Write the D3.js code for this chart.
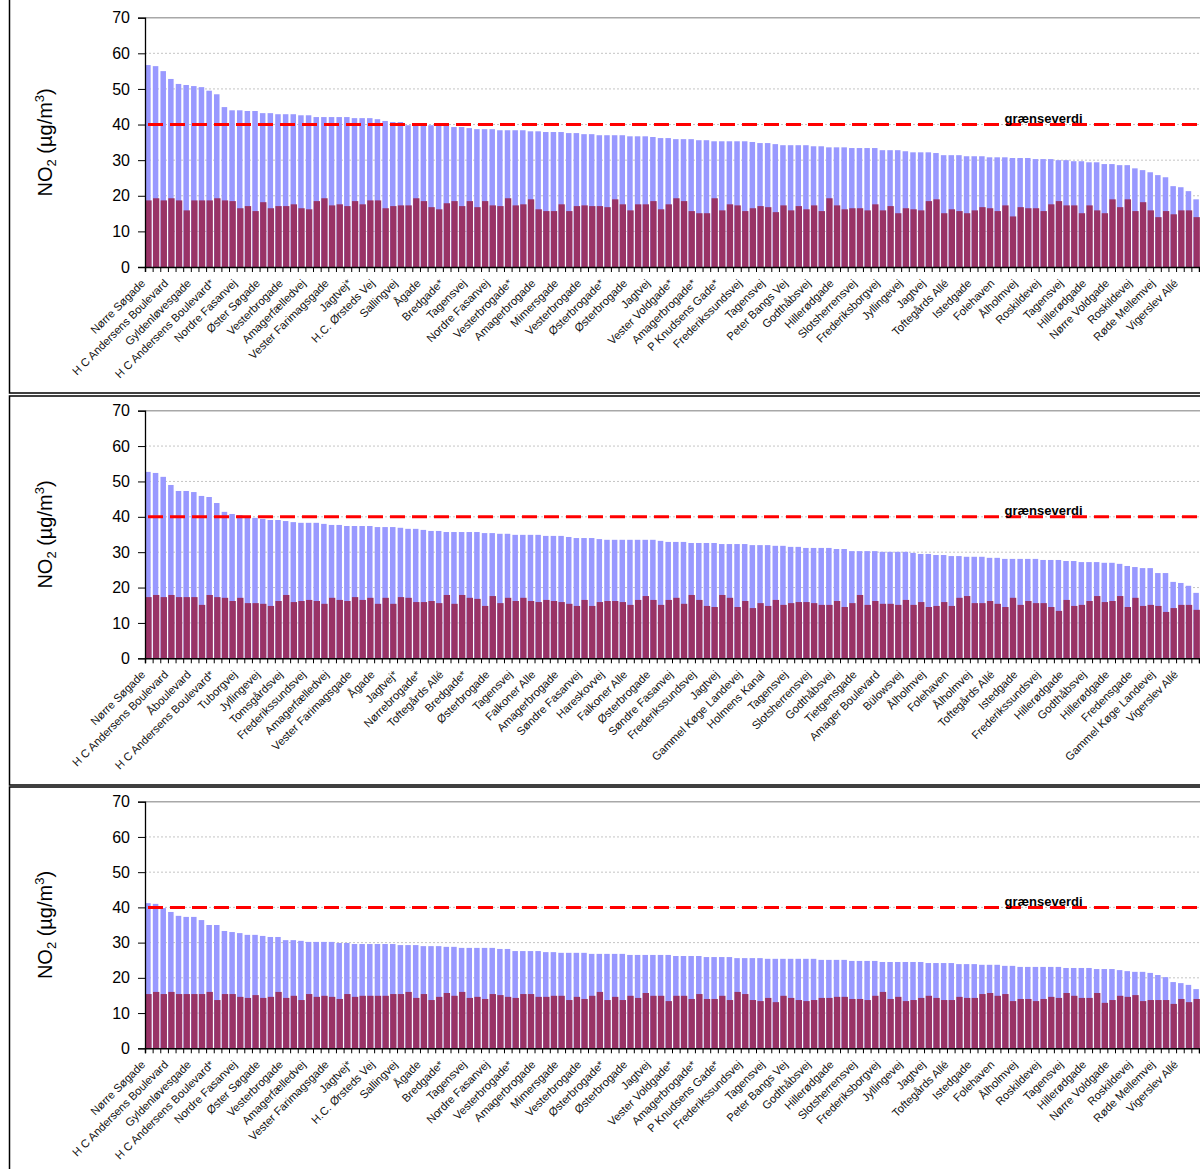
<!DOCTYPE html>
<html>
<head>
<meta charset="utf-8">
<script src="https://cdn.jsdelivr.net/npm/d3@7"></script>
<style>
  body { margin: 0; background: #fff; }
  svg { display: block; }
  text { font-family: Arial, "Liberation Sans", sans-serif; }
</style>
</head>
<body>
<div id="chart"></div>
<script>
// station names, one label per third bar
var labels1 = ["Nørre Søgade","H C Andersens Boulevard","Gyldenløvesgade","H C Andersens Boulevard*","Nordre Fasanvej","Øster Søgade","Vesterbrogade","Amagerfælledvej","Vester Farimagsgade","Jagtvej*","H.C. Ørsteds Vej","Sallingvej","Ågade","Bredgade*","Tagensvej","Nordre Fasanvej","Vesterbrogade*","Amagerbrogade","Mimersgade","Vesterbrogade","Østerbrogade*","Østerbrogade","Jagtvej","Vester Voldgade*","Amagerbrogade*","P Knudsens Gade*","Frederikssundsvej","Tagensvej","Peter Bangs Vej","Godthåbsvej","Hillerødgade","Slotsherrensvej","Frederiksborgvej","Jyllingevej","Jagtvej","Toftegårds Allé","Istedgade","Folehaven","Ålholmvej","Roskildevej","Tagensvej","Hillerødgade","Nørre Voldgade","Roskildevej","Røde Mellemvej","Vigerslev Allé"];
var labels2 = ["Nørre Søgade","H C Andersens Boulevard","Åboulevard","H C Andersens Boulevard*","Tuborgvej","Jyllingevej","Tomsgårdsvej","Frederikssundsvej","Amagerfælledvej","Vester Farimagsgade","Ågade","Jagtvej*","Nørrebrogade*","Toftegårds Allé","Bredgade*","Østerbrogade","Tagensvej","Falkoner Alle","Amagerbrogade","Søndre Fasanvej","Hareskovvej","Falkoner Alle","Østerbrogade","Søndre Fasanvej","Frederikssundsvej","Jagtvej","Gammel Køge Landevej","Holmens Kanal","Tagensvej","Slotsherrensvej","Godthåbsvej","Tietgensgade","Amager Boulevard","Bülowsvej","Ålholmvej","Folehaven","Ålholmvej","Toftegårds Allé","Istedgade","Frederikssundsvej","Hillerødgade","Godthåbsvej","Hillerødgade","Fredensgade","Gammel Køge Landevej","Vigerslev Allé"];
var labels3 = labels1;

// panel 1: street total (blue) and urban background (red)
var blue1 = [56.7,56.4,55.0,52.8,51.4,51.1,50.8,50.5,49.5,48.5,44.9,44.0,44.0,43.8,43.8,43.2,43.2,42.9,42.9,42.9,42.6,42.6,42.1,42.1,42.1,42.1,42.1,41.8,41.8,41.8,41.5,
  41.0,40.7,40.7,39.8,39.8,39.8,39.8,39.8,39.6,39.3,39.3,39.0,38.7,38.7,38.7,38.4,38.4,38.4,38.4,38.1,38.1,37.9,37.9,37.9,37.6,37.6,37.3,37.3,37.0,37.0,37.0,37.0,36.7,36.7,36.7,36.5,36.2,36.2,35.9,35.9,35.9,35.6,35.6,35.3,35.3,35.3,35.3,35.3,35.1,34.8,34.8,34.5,
  34.2,34.2,34.2,34.2,33.9,33.9,33.6,33.6,33.6,33.4,33.4,33.4,33.4,32.8,32.8,32.8,32.5,32.2,32.2,32.2,32.0,31.4,31.4,31.4,31.1,31.1,31.1,30.8,30.8,30.8,30.6,30.6,30.6,30.3,30.3,30.3,30.0,30.0,29.7,29.7,29.4,29.4,28.9,28.9,28.6,28.6,27.7,27.2,26.6,25.8,25.2,22.7,22.4,21.3,19.0];
var red1 = [18.7,19.3,18.7,19.3,18.7,15.9,18.7,18.7,18.7,19.3,18.7,18.5,16.5,17.1,15.7,18.2,16.5,17.1,17.1,17.6,16.5,16.2,18.5,19.3,17.3,17.6,17.1,18.5,17.6,18.7,18.7,
  16.5,17.1,17.3,17.3,19.3,18.5,16.8,16.2,17.9,18.5,17.1,18.5,16.8,18.5,17.3,17.1,19.3,17.3,17.6,19.0,16.2,15.7,15.7,17.6,15.7,17.1,17.3,17.1,17.1,16.8,19.0,17.6,15.9,17.6,17.6,18.5,16.2,17.6,19.3,18.5,15.7,15.1,15.1,19.3,15.9,17.6,17.3,15.7,16.5,17.1,16.8,15.4,
  17.3,15.9,17.1,16.2,17.3,15.7,19.3,17.3,16.2,16.5,16.5,15.9,17.6,15.9,17.1,15.1,16.5,16.2,15.9,18.5,19.0,15.1,16.2,15.7,15.1,15.9,16.8,16.5,15.7,17.3,14.2,16.8,16.5,16.5,15.7,17.6,18.5,17.3,17.3,15.1,17.3,15.9,15.1,19.0,16.8,19.0,15.7,18.2,15.9,14.0,15.7,14.8,15.9,15.9,14.0];

// panel 2
var blue2 = [52.7,52.4,51.3,49.0,47.3,47.3,47.0,45.9,45.6,43.9,41.4,40.8,40.5,40.2,39.7,39.4,39.1,39.1,38.8,38.5,38.3,38.3,38.3,38.0,37.7,37.7,37.4,37.4,37.4,37.4,37.1,
  37.1,37.1,36.9,36.6,36.6,36.3,36.0,36.0,35.7,35.7,35.7,35.7,35.7,35.4,35.4,35.2,35.2,34.9,34.9,34.9,34.9,34.6,34.6,34.6,34.3,34.0,34.0,34.0,33.7,33.5,33.5,33.5,33.5,33.5,33.5,33.5,33.2,32.9,32.9,32.9,32.6,32.6,32.6,32.6,32.3,32.3,32.3,32.3,32.0,32.0,32.0,31.8,
  31.8,31.5,31.5,31.2,31.2,31.2,31.2,30.9,30.9,30.3,30.3,30.3,30.3,30.1,30.1,30.1,30.1,29.8,29.5,29.5,29.2,29.2,28.9,28.9,28.7,28.7,28.7,28.4,28.4,28.1,28.1,28.1,28.1,28.1,27.8,27.8,27.8,27.5,27.5,27.2,27.2,27.2,27.0,27.0,26.7,26.1,25.8,25.5,25.5,24.1,24.1,21.6,21.3,20.5,18.5];
var red2 = [17.3,17.9,17.3,17.9,17.3,17.3,17.3,15.1,17.9,17.3,17.1,16.2,17.1,15.6,15.6,15.4,14.8,16.2,17.9,15.9,16.2,16.5,16.2,15.4,17.1,16.5,16.2,17.3,16.5,17.1,15.4,
  17.1,15.4,17.3,17.1,15.9,15.9,16.2,15.6,17.9,15.4,17.9,17.1,16.8,14.8,17.6,15.6,17.1,16.2,17.1,16.2,15.9,16.5,16.2,15.9,15.4,14.8,16.5,14.8,15.9,16.2,16.2,15.9,15.1,16.5,17.6,16.5,15.1,16.5,17.1,15.4,17.9,16.5,14.8,14.5,17.9,17.1,14.5,16.2,14.2,15.6,14.8,16.5,
  15.1,15.6,15.9,15.9,15.6,15.1,15.1,16.2,14.5,15.6,17.9,15.1,16.2,15.4,15.4,15.1,16.5,15.1,15.9,14.5,14.8,15.9,14.8,17.1,17.6,15.6,15.6,16.2,15.4,14.5,17.1,15.1,16.2,15.6,15.6,14.5,13.4,16.5,14.8,15.1,16.2,17.6,15.9,16.2,17.6,14.5,17.1,14.8,15.1,14.8,13.1,14.2,15.1,15.1,13.7];

// panel 3
var blue3 = [41.2,41.0,39.8,38.7,37.6,37.3,37.3,36.4,35.0,35.0,33.3,33.0,32.7,32.2,32.2,31.9,31.6,31.6,30.7,30.7,30.5,30.2,30.2,30.2,30.2,29.9,29.9,29.6,29.6,29.6,29.6,
  29.6,29.6,29.3,29.3,29.3,29.0,29.0,29.0,28.8,28.8,28.5,28.5,28.5,28.5,28.5,28.2,28.2,27.6,27.6,27.6,27.6,27.3,27.3,27.1,27.1,27.1,27.1,26.8,26.8,26.8,26.8,26.8,26.5,26.5,26.5,26.5,26.5,26.5,26.2,26.2,26.2,26.2,25.9,25.9,25.9,25.9,25.6,25.6,25.6,25.6,25.4,25.4,
  25.4,25.4,25.4,25.4,25.4,25.1,25.1,25.1,25.1,24.8,24.8,24.8,24.8,24.5,24.5,24.5,24.5,24.5,24.5,24.2,24.2,24.2,24.2,23.9,23.9,23.9,23.7,23.7,23.7,23.4,23.4,23.1,23.1,23.1,23.1,23.1,23.1,22.8,22.8,22.8,22.8,22.5,22.5,22.5,22.2,21.9,21.7,21.7,21.4,20.8,20.2,18.8,18.5,18.0,16.8];
var red3 = [15.4,16.0,15.4,16.0,15.4,15.4,15.4,15.4,16.0,13.7,15.4,15.4,14.6,14.3,15.1,14.3,14.6,16.0,14.3,14.9,13.7,15.4,14.6,14.9,14.6,14.0,15.4,14.6,14.9,14.9,14.9,
  14.9,15.4,15.4,16.0,14.3,15.4,13.7,14.6,15.7,14.9,16.0,14.3,14.6,14.0,15.4,15.1,14.6,14.3,15.4,15.4,14.6,14.6,14.9,14.9,13.7,14.6,14.0,14.9,16.0,13.7,14.6,13.7,14.9,14.3,15.7,14.9,14.9,13.4,14.9,14.9,14.0,15.4,14.0,14.0,14.9,13.7,16.0,15.4,13.7,13.4,14.3,13.1,
  14.9,14.3,13.7,13.4,13.7,14.3,14.3,14.6,14.6,14.0,14.0,13.7,14.9,16.0,14.0,14.6,13.4,13.7,14.3,14.9,14.3,13.7,13.7,14.6,14.3,14.3,15.4,15.7,14.9,15.4,13.4,14.0,14.0,13.4,14.0,14.6,14.3,15.7,14.9,14.3,14.3,15.7,12.9,13.7,14.9,14.6,15.1,13.4,13.7,13.7,13.7,12.6,14.0,13.1,14.0];

var yTicks = [0, 10, 20, 30, 40, 50, 60, 70];
var limitValue = 40;
var limitLabel = "grænseverdi";

var width = 1200, height = 1169;
var left = 145, right = 1199;

var svg = d3.select("#chart")
  .append("svg")
  .attr("width", width)
  .attr("height", height);

var panels = [
  {frame: [-5, 393], y0: 267, y1: 17.7, labels: labels1, blue: blue1, red: red1},
  {frame: [396, 785], y0: 658.3, y1: 410.7, labels: labels2, blue: blue2, red: red2},
  {frame: [787, 1180], y0: 1048.3, y1: 801.7, labels: labels3, blue: blue3, red: red3}
];

panels.forEach(function(p) {
  var g = svg.append("g");
  var n = p.blue.length;

  // frame round the panel
  g.append("rect")
    .attr("x", 9.5).attr("y", p.frame[0])
    .attr("width", 1300).attr("height", p.frame[1] - p.frame[0])
    .attr("fill", "none").attr("stroke", "#000").attr("stroke-width", 1.5);

  var x = d3.scaleBand()
    .domain(d3.range(n))
    .range([left, right])
    .paddingInner(0.28)
    .paddingOuter(0.02);
  var xEdge = d3.scaleLinear().domain([0, n]).range([left, right]);

  var y = d3.scaleLinear()
    .domain([0, 70])
    .range([p.y0, p.y1]);

  // gridlines
  g.selectAll(".grid")
    .data(yTicks.filter(function(d) { return d > 0 && d < 70; }))
    .enter().append("line")
    .attr("x1", left).attr("x2", width)
    .attr("y1", function(d) { return y(d); })
    .attr("y2", function(d) { return y(d); })
    .attr("stroke", "#c4c4c4")
    .attr("stroke-dasharray", "2,2");
  g.append("line")
    .attr("x1", left).attr("x2", width)
    .attr("y1", y(70)).attr("y2", y(70))
    .attr("stroke", "#a8a8a8").attr("stroke-width", 1.5);

  // bars
  g.selectAll(".blue")
    .data(p.blue)
    .enter().append("rect")
    .attr("x", function(d, i) { return x(i); })
    .attr("y", function(d) { return y(d); })
    .attr("width", x.bandwidth())
    .attr("height", function(d) { return y(0) - y(d); })
    .attr("fill", "#9999ff");
  g.selectAll(".red")
    .data(p.red)
    .enter().append("rect")
    .attr("x", function(d, i) { return x(i) + 0.2; })
    .attr("y", function(d) { return y(d); })
    .attr("width", x.bandwidth() + 0.8)
    .attr("height", function(d) { return y(0) - y(d); })
    .attr("fill", "#993366");

  // limit line
  g.append("line")
    .attr("x1", left + 3).attr("x2", width)
    .attr("y1", y(limitValue)).attr("y2", y(limitValue))
    .attr("stroke", "#ff0000").attr("stroke-width", 3)
    .attr("stroke-dasharray", "15,7");
  g.append("text")
    .attr("x", 1043.5).attr("y", y(limitValue) - 1.5)
    .attr("text-anchor", "middle")
    .attr("font-size", 13).attr("font-weight", "bold")
    .attr("fill", "#000")
    .text(limitLabel);

  // y axis
  var yAxis = g.append("g")
    .attr("transform", "translate(" + left + ",0)")
    .call(d3.axisLeft(y).tickValues(yTicks).tickSize(7).tickPadding(8));
  yAxis.select(".domain").attr("stroke-width", 1.3);
  yAxis.selectAll("text").attr("font-size", 16).attr("fill", "#000")
    .attr("font-family", "Arial, 'Liberation Sans', sans-serif");

  // x axis with ticks between categories
  var xAxis = g.append("g")
    .attr("transform", "translate(0," + y(0) + ")")
    .call(d3.axisBottom(xEdge).tickValues(d3.range(n + 1)).tickSize(5).tickFormat(""));
  xAxis.select(".domain").attr("stroke-width", 1.5);

  // category labels
  g.selectAll(".lab")
    .data(p.labels)
    .enter().append("text")
    .attr("transform", function(d, i) {
      var cx = x(i * 3) + x.bandwidth() / 2 - 2;
      return "translate(" + cx + "," + (y(0) + 17) + ") rotate(-45)";
    })
    .attr("text-anchor", "end")
    .attr("font-size", 11.3)
    .attr("fill", "#111")
    .text(function(d) { return d; });

  // y title
  var t = g.append("text")
    .attr("transform", "translate(52," + ((p.y0 + p.y1) / 2) + ") rotate(-90)")
    .attr("text-anchor", "middle")
    .attr("font-size", 20)
    .attr("fill", "#000");
  t.append("tspan").text("NO");
  t.append("tspan").attr("font-size", 13).attr("dy", 4).text("2");
  t.append("tspan").attr("dy", -4).text(" (µg/m");
  t.append("tspan").attr("font-size", 13).attr("dy", -8).text("3");
  t.append("tspan").attr("dy", 8).text(")");
});
</script>
</body>
</html>
